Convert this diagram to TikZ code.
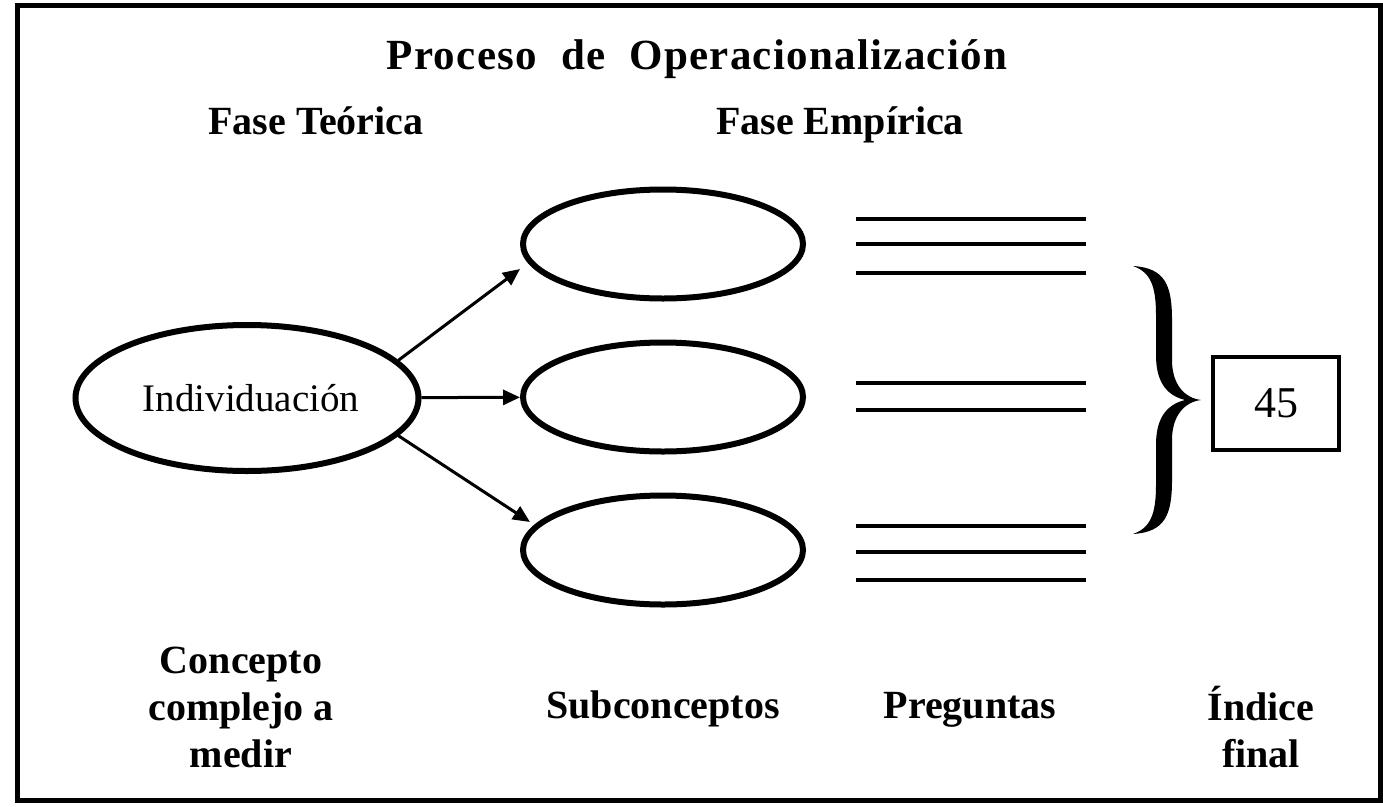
\documentclass[tikz,border=0pt]{standalone}
\usepackage{fontspec}
\setmainfont{Liberation Serif}
\usepackage{tikz}
\usetikzlibrary{shapes.geometric,arrows.meta}

\tikzset{
  concepto/.style={ellipse,draw,line width=6pt,inner sep=0pt},
  flecha/.style={line width=3pt,-{Triangle[length=17pt,width=15pt]}},
  rotulo/.style={font=\fontsize{40}{47}\selectfont\bfseries,align=center,anchor=base},
  pregunta/.style={line width=4pt}
}

\begin{document}
\begin{tikzpicture}[x=1pt,y=-1pt]
\useasboundingbox (0,0) rectangle (1383,806);
\draw[line width=5pt] (17.5,5.5) rectangle (1380.5,800.5);

\node[font=\addfontfeature{LetterSpace=3}\fontsize{43}{50}\selectfont\bfseries,anchor=base] (titulo) at (697,69) {Proceso\ \ de\ \ Operacionalización};
\node[rotulo] (teorica) at (316,134) {Fase Teórica};
\node[rotulo] (empirica) at (840,134) {Fase Empírica};

\node[concepto,minimum width=343,minimum height=146,font=\fontsize{39}{47}\selectfont] (indiv) at (247,398) {\hspace{8pt}Individuación};
\node[concepto,minimum width=280,minimum height=109] (sub1) at (663,244) {};
\node[concepto,minimum width=280,minimum height=109] (sub2) at (663,397) {};
\node[concepto,minimum width=280,minimum height=109] (sub3) at (663,550) {};

\draw[flecha] (indiv.14) -- ([yshift=-25pt]sub1.west);
\draw[flecha] (indiv) -- (sub2);
\draw[flecha] (indiv.-14) -- ([xshift=10pt,yshift=28pt]sub3.west);

\draw[pregunta] (856,219) -- (1086,219);
\draw[pregunta] (856,244) -- (1086,244);
\draw[pregunta] (856,273) -- (1086,273);
\draw[pregunta] (856,383) -- (1086,383);
\draw[pregunta] (856,410) -- (1086,410);
\draw[pregunta] (856,526) -- (1086,526);
\draw[pregunta] (856,552) -- (1086,552);
\draw[pregunta] (856,580) -- (1086,580);

\fill (1133,266) .. controls (1165,268) and (1172,285) .. (1172,320) -- (1172,360)
  .. controls (1172,385) and (1185,398) .. (1201,400)
  .. controls (1185,402) and (1172,415) .. (1172,440) -- (1172,480)
  .. controls (1172,515) and (1165,532) .. (1133,534)
  .. controls (1150,528) and (1156,515) .. (1156,485) -- (1156,445)
  .. controls (1156,420) and (1165,405) .. (1185,400)
  .. controls (1165,395) and (1156,380) .. (1156,355) -- (1156,315)
  .. controls (1156,285) and (1150,272) .. (1133,266) -- cycle;

\node[draw,line width=4pt,minimum width=126,minimum height=93,font=\fontsize{44}{50}\selectfont] (indice) at (1276,403.5) {45};

\node[rotulo] (complejo) at (241,767) {Concepto\\complejo a\\medir};
\node[rotulo] (subc) at (663,718) {Subconceptos};
\node[rotulo] (preg) at (970,718) {Preguntas};
\node[rotulo] (final) at (1261,767) {Índice\\final};
\end{tikzpicture}
\end{document}
